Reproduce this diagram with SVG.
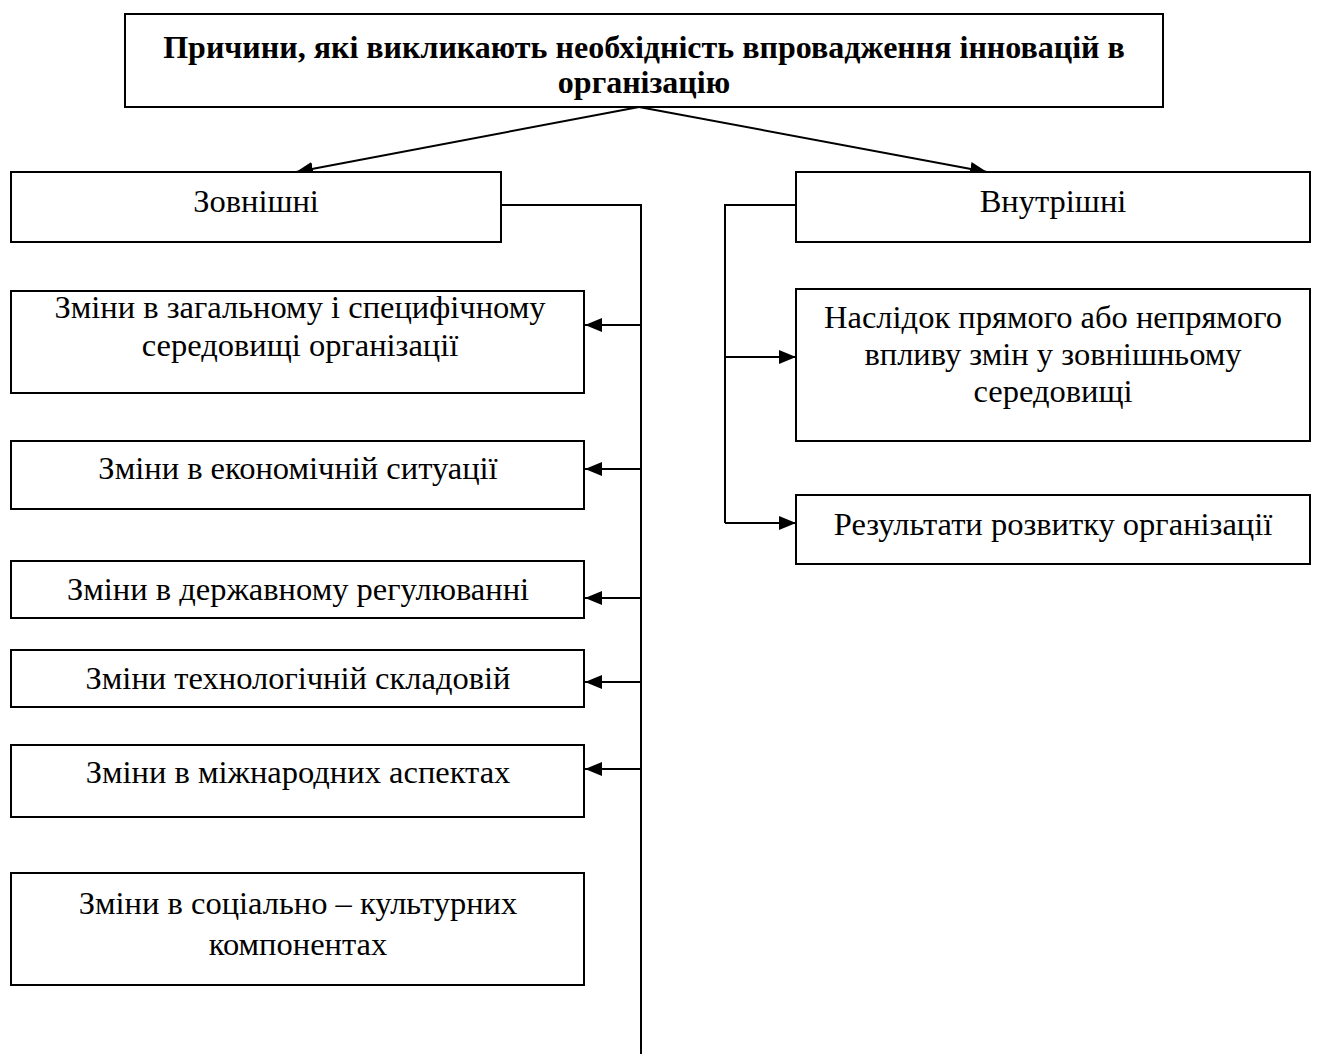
<svg xmlns="http://www.w3.org/2000/svg" width="1317" height="1056" viewBox="0 0 1317 1056">
<style>
.box{fill:#fff;stroke:#000;stroke-width:2}
.t{font-family:"Liberation Serif","Times New Roman",serif;font-size:32.5px;fill:#000;text-anchor:middle}
.b{font-weight:bold;font-size:32px}
.c{fill:none;stroke:#000;stroke-width:2}
</style>
<defs>
<marker id="ah" markerUnits="userSpaceOnUse" markerWidth="18" markerHeight="14" refX="17" refY="7" orient="auto">
<path d="M0,0 L17,7 L0,14 z" fill="#000"/>
</marker>
</defs>
<rect width="1317" height="1056" fill="#fff"/>
<g id="connectors">
<line class="c" x1="639" y1="107" x2="296" y2="172" marker-end="url(#ah)"/>
<line class="c" x1="639" y1="107" x2="987" y2="172" marker-end="url(#ah)"/>
<polyline class="c" points="502,205 641,205 641,1054"/>
<line class="c" x1="641" y1="325" x2="585" y2="325" marker-end="url(#ah)"/>
<line class="c" x1="641" y1="469" x2="585" y2="469" marker-end="url(#ah)"/>
<line class="c" x1="641" y1="598" x2="585" y2="598" marker-end="url(#ah)"/>
<line class="c" x1="641" y1="682" x2="585" y2="682" marker-end="url(#ah)"/>
<line class="c" x1="641" y1="769" x2="585" y2="769" marker-end="url(#ah)"/>
<polyline class="c" points="796,205 725,205 725,523"/>
<line class="c" x1="725" y1="357" x2="796" y2="357" marker-end="url(#ah)"/>
<line class="c" x1="725" y1="523" x2="796" y2="523" marker-end="url(#ah)"/>
</g>
<g id="title">
<rect class="box" x="125" y="14" width="1038" height="93"/>
<text class="t b" x="644" y="58">Причини, які викликають необхідність впровадження інновацій в</text>
<text class="t b" x="644" y="93">організацію</text>
</g>
<g id="external">
<rect class="box" x="11" y="172" width="490" height="70"/>
<text class="t" x="256" y="212">Зовнішні</text>
</g>
<g id="internal">
<rect class="box" x="796" y="172" width="514" height="70"/>
<text class="t" x="1053" y="212">Внутрішні</text>
</g>
<g id="ext1">
<rect class="box" x="11" y="291" width="573" height="102"/>
<text class="t" x="300" y="318">Зміни в загальному і специфічному</text>
<text class="t" x="300" y="356">середовищі організації</text>
</g>
<g id="ext2">
<rect class="box" x="11" y="441" width="573" height="68"/>
<text class="t" x="298" y="479">Зміни в економічній ситуації</text>
</g>
<g id="ext3">
<rect class="box" x="11" y="561" width="573" height="57"/>
<text class="t" x="298" y="600">Зміни в державному регулюванні</text>
</g>
<g id="ext4">
<rect class="box" x="11" y="650" width="573" height="57"/>
<text class="t" x="298" y="689">Зміни технологічній складовій</text>
</g>
<g id="ext5">
<rect class="box" x="11" y="745" width="573" height="72"/>
<text class="t" x="298" y="783">Зміни в міжнародних аспектах</text>
</g>
<g id="ext6">
<rect class="box" x="11" y="873" width="573" height="112"/>
<text class="t" x="298" y="914">Зміни в соціально – культурних</text>
<text class="t" x="298" y="955">компонентах</text>
</g>
<g id="int1">
<rect class="box" x="796" y="289" width="514" height="152"/>
<text class="t" x="1053" y="328">Наслідок прямого або непрямого</text>
<text class="t" x="1053" y="365">впливу змін у зовнішньому</text>
<text class="t" x="1053" y="402">середовищі</text>
</g>
<g id="int2">
<rect class="box" x="796" y="495" width="514" height="69"/>
<text class="t" x="1053" y="535">Результати розвитку організації</text>
</g>
</svg>
